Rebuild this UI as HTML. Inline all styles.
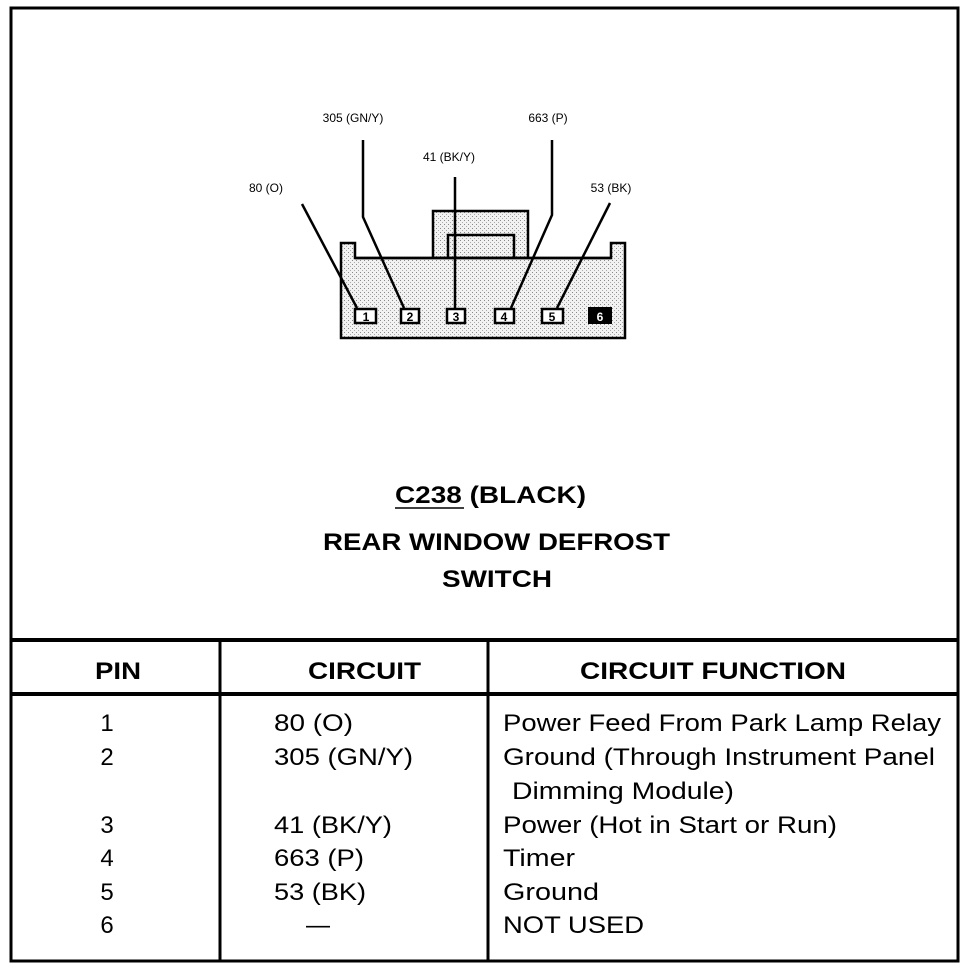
<!DOCTYPE html>
<html><head><meta charset="utf-8"><style>
html,body{margin:0;padding:0;background:#fff;}
svg{display:block;}
text{font-family:"Liberation Sans",Arial,sans-serif;fill:#000;}
</style></head><body>
<svg width="976" height="968" viewBox="0 0 976 968" xmlns="http://www.w3.org/2000/svg">
<defs>
<pattern id="st" width="4" height="4" patternUnits="userSpaceOnUse">
<rect width="4" height="4" fill="#f2f2f2"/><rect x="0" y="0" width="1" height="1" fill="#888"/><rect x="2" y="2" width="1" height="1" fill="#aaa"/>
</pattern>
</defs>
<!-- outer frame -->
<rect x="11" y="8" width="947" height="953" fill="#fff" stroke="#000" stroke-width="3"/>
<line x1="11" y1="640" x2="958" y2="640" stroke="#000" stroke-width="4"/>
<line x1="11" y1="694" x2="958" y2="694" stroke="#000" stroke-width="4"/>
<line x1="220" y1="640" x2="220" y2="961" stroke="#000" stroke-width="3"/>
<line x1="488" y1="640" x2="488" y2="961" stroke="#000" stroke-width="3"/>

<!-- connector -->
<rect x="433" y="211" width="95" height="47" fill="url(#st)" stroke="#000" stroke-width="2.5"/>
<path d="M448,258 V235 H514 V258" fill="none" stroke="#000" stroke-width="2.5"/>
<path d="M341,243 H355 V258 H611 V243 H625 V338 H341 Z" fill="url(#st)" stroke="#000" stroke-width="2.5"/>
<line x1="355" y1="258" x2="611" y2="258" stroke="#000" stroke-width="2.5"/>

<g stroke="#000" stroke-width="2.5" fill="#fff">
<rect x="355" y="309" width="21" height="14"/>
<rect x="401" y="309" width="18" height="14"/>
<rect x="447" y="309" width="18" height="14"/>
<rect x="495" y="309" width="19" height="14"/>
<rect x="542" y="309" width="21" height="14"/>
</g>
<rect x="588" y="307" width="24" height="17" fill="#000"/>
<g font-size="12" font-weight="bold" text-anchor="middle">
<text x="366" y="321">1</text><text x="410" y="321">2</text><text x="456" y="321">3</text><text x="504" y="321">4</text><text x="552" y="321">5</text>
<text x="600" y="321" fill="#fff" style="fill:#fff">6</text>
</g>

<!-- wires -->
<g stroke="#000" stroke-width="2.5" fill="none">
<line x1="302" y1="204" x2="357" y2="308"/>
<polyline points="363,140 363,217 404,308"/>
<line x1="455" y1="177" x2="455" y2="308"/>
<polyline points="552,140 552,215 511,308"/>
<line x1="610" y1="203" x2="557" y2="308"/>
</g>
<g font-size="12" text-anchor="middle">
<text x="353" y="122">305 (GN/Y)</text>
<text x="548" y="122">663 (P)</text>
<text x="449" y="161">41 (BK/Y)</text>
<text x="266" y="192">80 (O)</text>
<text x="611" y="192">53 (BK)</text>
</g>

<!-- title -->
<g font-size="24" font-weight="bold">
<text x="395" y="503" textLength="191" lengthAdjust="spacingAndGlyphs">C238 (BLACK)</text>
<text x="323" y="550" textLength="347" lengthAdjust="spacingAndGlyphs">REAR WINDOW DEFROST</text>
<text x="442" y="587" textLength="110" lengthAdjust="spacingAndGlyphs">SWITCH</text>
</g>
<line x1="395" y1="508" x2="464" y2="508" stroke="#000" stroke-width="1.5"/>

<!-- table header -->
<g font-size="24" font-weight="bold">
<text x="95" y="679" textLength="46" lengthAdjust="spacingAndGlyphs">PIN</text>
<text x="308" y="679" textLength="113" lengthAdjust="spacingAndGlyphs">CIRCUIT</text>
<text x="580" y="679" textLength="266" lengthAdjust="spacingAndGlyphs">CIRCUIT FUNCTION</text>
</g>

<!-- rows -->
<g font-size="24">
<text x="107" y="731" text-anchor="middle">1</text>
<text x="107" y="765" text-anchor="middle">2</text>
<text x="107" y="833" text-anchor="middle">3</text>
<text x="107" y="866" text-anchor="middle">4</text>
<text x="107" y="900" text-anchor="middle">5</text>
<text x="107" y="933" text-anchor="middle">6</text>

<text x="274" y="731" textLength="79" lengthAdjust="spacingAndGlyphs">80 (O)</text>
<text x="274" y="765" textLength="139" lengthAdjust="spacingAndGlyphs">305 (GN/Y)</text>
<text x="274" y="833" textLength="118" lengthAdjust="spacingAndGlyphs">41 (BK/Y)</text>
<text x="274" y="866" textLength="90" lengthAdjust="spacingAndGlyphs">663 (P)</text>
<text x="274" y="900" textLength="92" lengthAdjust="spacingAndGlyphs">53 (BK)</text>
<text x="306" y="933">—</text>

<text x="503" y="731" textLength="438" lengthAdjust="spacingAndGlyphs">Power Feed From Park Lamp Relay</text>
<text x="503" y="765" textLength="432" lengthAdjust="spacingAndGlyphs">Ground (Through Instrument Panel</text>
<text x="512" y="799" textLength="222" lengthAdjust="spacingAndGlyphs">Dimming Module)</text>
<text x="503" y="833" textLength="334" lengthAdjust="spacingAndGlyphs">Power (Hot in Start or Run)</text>
<text x="503" y="866" textLength="72" lengthAdjust="spacingAndGlyphs">Timer</text>
<text x="503" y="900" textLength="96" lengthAdjust="spacingAndGlyphs">Ground</text>
<text x="503" y="933" textLength="141" lengthAdjust="spacingAndGlyphs">NOT USED</text>
</g>
</svg>
</body></html>
